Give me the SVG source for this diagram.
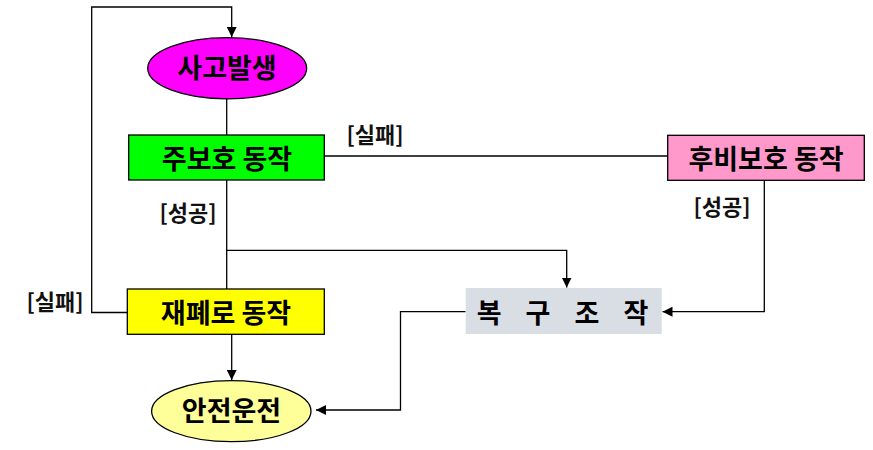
<svg xmlns="http://www.w3.org/2000/svg" width="873" height="450" viewBox="0 0 873 450">
<style>
.n{font-family:"Noto Sans CJK KR","Noto Sans",sans-serif;font-weight:bold;font-size:27px;fill:#000;text-anchor:middle;dominant-baseline:central}
.l{font-family:"Noto Sans CJK KR","Noto Sans",sans-serif;font-weight:bold;font-size:22px;fill:#111;text-anchor:middle;dominant-baseline:central}
.c{fill:none;stroke:#000;stroke-width:1.3}
</style>
<defs>
<marker id="ah" viewBox="0 0 10 10" refX="10" refY="5" markerWidth="10" markerHeight="10" markerUnits="userSpaceOnUse" orient="auto">
<path d="M0,0 L10,5 L0,10 z" fill="#000"/>
</marker>
</defs>
<rect width="873" height="450" fill="#fff"/>
<g id="connectors">
<path class="c" d="M128,312.5 H91.7 V7 H231.7 V37" marker-end="url(#ah)"/>
<path class="c" d="M226.7,99 V135"/>
<path class="c" d="M324.3,156 H667.7"/>
<path class="c" d="M226.7,180 V289"/>
<path class="c" d="M226.7,250.3 H566.7 V287.5" marker-end="url(#ah)"/>
<path class="c" d="M764.3,180.3 V311.7 H662.5" marker-end="url(#ah)"/>
<path class="c" d="M465.7,311.7 H400.5 V410 H316" marker-end="url(#ah)"/>
<path class="c" d="M231.7,334.3 V380" marker-end="url(#ah)"/>
</g>
<g id="accident">
<ellipse cx="227.2" cy="68.3" rx="79.5" ry="30.6" fill="#FF00FF" stroke="#000" stroke-width="1.3"/>
<text class="n" x="227" y="66.5">사고발생</text>
</g>
<g id="primary">
<rect x="128.7" y="135" width="195.6" height="45" fill="#00FF00" stroke="#000" stroke-width="1.3"/>
<text class="n" x="227" y="157">주보호 동작</text>
</g>
<g id="backup">
<rect x="667.7" y="135.3" width="196.6" height="45" fill="#FF99CC" stroke="#000" stroke-width="1.3"/>
<text class="n" x="766" y="157">후비보호 동작</text>
</g>
<g id="reclose">
<rect x="127.3" y="289" width="197" height="45.3" fill="#FFFF00" stroke="#000" stroke-width="1.3"/>
<text class="n" x="226" y="311">재폐로 동작</text>
</g>
<g id="restore">
<rect x="465.7" y="288" width="196" height="46" fill="#D9DEE5"/>
<text class="n" x="567" y="311" font-size="23" letter-spacing="9">복 구 조 작</text>
</g>
<g id="safe">
<ellipse cx="231.3" cy="411.2" rx="79.7" ry="30.5" fill="#FFFF99" stroke="#000" stroke-width="1.3"/>
<text class="n" x="231.5" y="409.5">안전운전</text>
</g>
<g id="labels">
<text class="l" x="375" y="133">[실패]</text>
<text class="l" x="188" y="211">[성공]</text>
<text class="l" x="722" y="205">[성공]</text>
<text class="l" x="55" y="300">[실패]</text>
</g>
</svg>
